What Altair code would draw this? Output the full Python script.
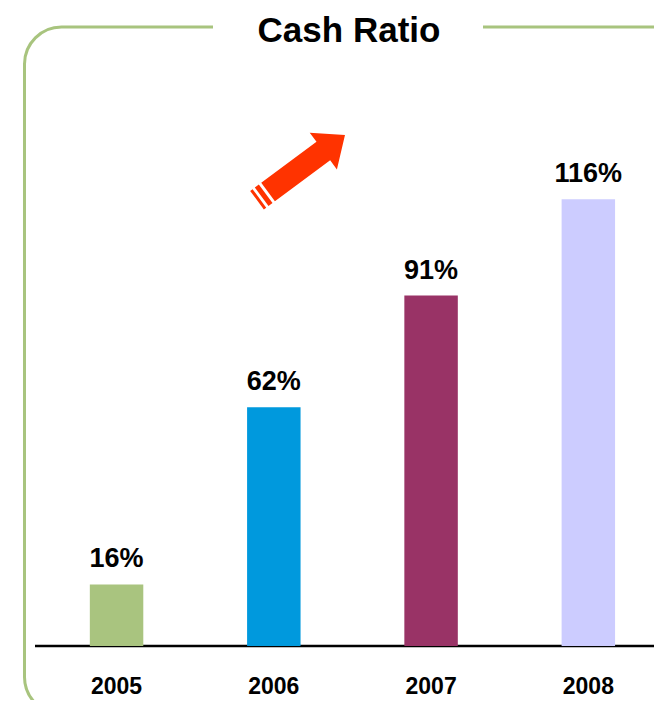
import altair as alt
import pandas as pd

years = ["2005", "2006", "2007", "2008"]
values = [16, 62, 91, 116]
labels = ["16%", "62%", "91%", "116%"]
colors = ["#A9C47F", "#0099DD", "#993366", "#CCCCFF"]
title_text = "Cash Ratio"

df = pd.DataFrame({"year": years, "value": values, "label": labels})
one = pd.DataFrame({"k": [0]})

SANS = "Liberation Sans, Arial, sans-serif"

xscale = alt.Scale(domain=years, range=[3.2, 685.7], paddingInner=0.66, paddingOuter=0.5)
x = alt.X("year:N", sort=years, scale=xscale,
          axis=alt.Axis(title=None, domain=False, ticks=False,
                        labelAngle=0, labelFont=SANS, labelFontSize=23,
                        labelFontWeight="bold", labelColor="#000000",
                        labelBaseline="alphabetic", labelPadding=47))
y = alt.Y("value:Q", scale=alt.Scale(domain=[0, 165.7], nice=False), axis=None)

base = alt.Chart(df)

frame = alt.Chart(one).mark_rect(
    stroke="#A8C47E", strokeWidth=3, fillOpacity=0, cornerRadius=37
).encode(x=alt.value(16.5), x2=alt.value(690), y=alt.value(19), y2=alt.value(706))

gap = alt.Chart(one).mark_rect(color="white").encode(
    x=alt.value(205), x2=alt.value(475), y=alt.value(10), y2=alt.value(28))

baseline = alt.Chart(one).mark_rule(color="#000000", strokeWidth=2.6).encode(
    y=alt.value(638), x=alt.value(27), x2=alt.value(660))

bars = base.mark_bar().encode(
    x=x, y=y,
    color=alt.Color("year:N", scale=alt.Scale(domain=years, range=colors), legend=None))

texts = base.mark_text(
    font=SANS, fontSize=27, fontWeight="bold", color="#000000",
    baseline="alphabetic", dy=-17
).encode(x=x, y=y, text="label:N")

arrow_path = ("M0,-0.995L0.415,-0.505L0.209,-0.505L0.209,0.745L-0.209,0.745L-0.209,-0.505L-0.415,-0.505Z "
              "M-0.209,0.799L0.209,0.799L0.209,0.89L-0.209,0.89Z "
              "M-0.209,0.941L0.209,0.941L0.209,0.995L-0.209,0.995Z")
arrow = alt.Chart(one).mark_point(
    shape=arrow_path, filled=True, size=12100, angle=53.5, color="#FF3300", opacity=1
).encode(x=alt.value(293), y=alt.value(159.6))

title = alt.Chart(one).mark_text(
    text=title_text, font=SANS, fontSize=35, fontWeight="bold", color="#000000",
    baseline="alphabetic", align="center"
).encode(x=alt.value(341), y=alt.value(33.5))

chart = alt.layer(frame, gap, baseline, bars, texts, arrow, title).properties(
    width=646, height=638,
    autosize=alt.AutoSizeParams(type="none"),
    padding={"left": 0, "top": 0, "right": 0, "bottom": 54},
    background="white",
).configure_view(strokeWidth=0)

chart.save("out.html", embed_options={"renderer": "svg", "actions": False})
